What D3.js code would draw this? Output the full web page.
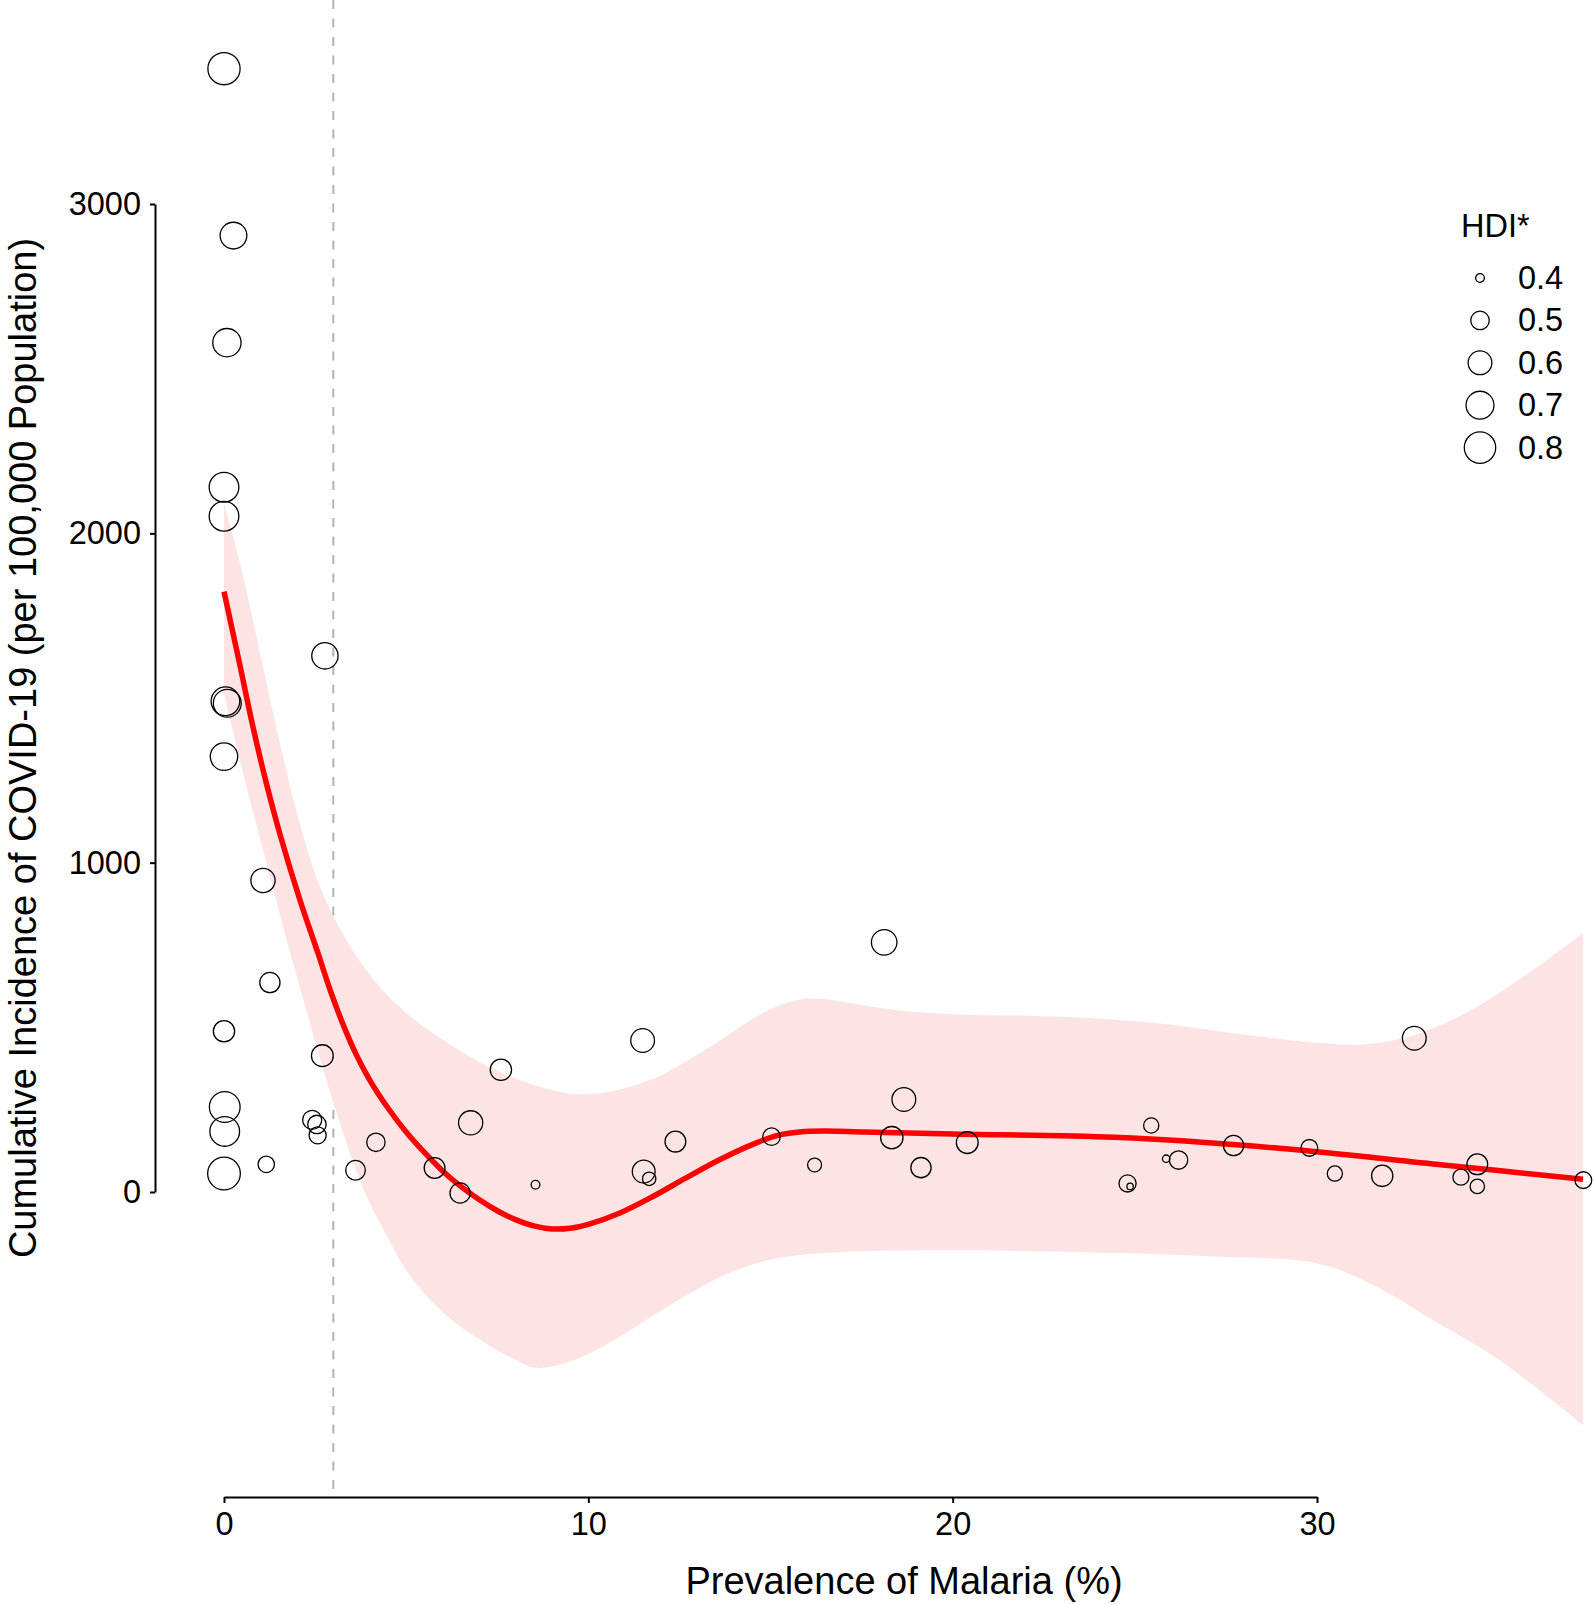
<!DOCTYPE html>
<html>
<head>
<meta charset="utf-8">
<script src="https://cdn.jsdelivr.net/npm/d3@7"></script>
<style>
  html, body { margin: 0; padding: 0; background: #fff; }
  svg { display: block; }
  text { font-family: "Liberation Sans", Arial, sans-serif; fill: #000; }
</style>
</head>
<body>
<svg id="chart" width="1594" height="1604"></svg>
<script>
// ---------- data ----------
const malaria = [0, 0.26, 0.08, 0, 0, 2.77, 0.04, 0.09, 0, 1.07, 1.26, 0, 2.70, 0.02, 0.02, 0, 1.16,
  2.42, 2.55, 2.57, 4.17, 3.61, 7.6, 6.77, 5.78, 6.48, 11.49, 8.55, 11.52, 11.67, 12.39, 15.03,
  16.21, 18.66, 18.33, 19.13, 20.40, 18.12, 32.67, 25.45, 25.86, 26.2, 24.8, 24.87, 27.71, 29.79,
  30.49, 31.79, 34.4, 33.95, 34.4, 37.31];
const incidence = [3411, 2904, 2579, 2140, 2052, 1628, 1490, 1484, 1322, 946, 636, 488, 414, 258, 184, 56, 84,
  219, 205, 172, 151, 66, 371, 210, 73, -3, 460, 22, 62, 40, 153, 168,
  82, 281, 165, 74, 150, 758, 467, 202, 101, 97, 26, 17, 141, 134,
  56, 49, 84, 45, 17, 36];
const hdi = [0.825, 0.67, 0.71, 0.75, 0.75, 0.66, 0.72, 0.70, 0.69, 0.61, 0.53, 0.55, 0.56, 0.78, 0.75, 0.84, 0.47,
  0.51, 0.50, 0.48, 0.50, 0.52, 0.55, 0.61, 0.54, 0.53, 0.60, 0.40, 0.58, 0.435, 0.54, 0.485,
  0.44, 0.60, 0.57, 0.53, 0.56, 0.64, 0.60, 0.455, 0.395, 0.50, 0.48, 0.392, 0.53, 0.475,
  0.455, 0.55, 0.54, 0.465, 0.445, 0.475];

// LOESS fit and confidence band
const fitX = [0, 0.44, 0.8, 1.17, 1.54, 2.09, 2.58, 2.94, 3.3, 3.64, 4.0, 4.5, 5.0, 5.5, 6.0, 6.5, 7.0,
  7.5, 8.0, 8.5, 9.0, 9.5, 10.0, 10.9, 11.8, 12.67, 13.6, 14.63, 15.2, 15.8, 16.5, 17.58, 20.0,
  24.44, 28.95, 33.46, 37.3];
const fitY = [1823, 1598, 1410, 1238, 1085, 885, 725, 605, 500, 415, 340, 255, 182, 120, 64, 17, -23,
  -57, -84, -103, -112, -110, -98, -62, -12, 42, 98, 150, 172, 182, 185, 182, 176,
  166, 133, 82, 39];
const upperX = [0, 0.44, 0.99, 1.54, 2.09, 2.64, 3.18, 3.73, 4.3, 4.83, 5.5, 6.0, 7.0, 8.0, 9.0, 9.7, 10.5,
  11.7, 12.5, 13.65, 14.5, 15.2, 15.9, 16.5, 17.5, 18.5, 20.0, 22.0, 24.0, 26.0, 28.0, 30.0, 31.2,
  32.3, 33.5, 34.7, 36.0, 37.3];
const upperY = [2090, 1909, 1636, 1360, 1115, 925, 800, 700, 620, 560, 500, 462, 395, 345, 310, 297, 303,
  340, 385, 462, 525, 565, 586, 585, 568, 552, 540, 535, 527, 508, 478, 453, 448,
  465, 512, 583, 680, 786];
const lowerX = [0, 0.26, 0.71, 1.17, 1.72, 2.18, 2.73, 3.18, 3.82, 4.5, 5.08, 6.0, 7.05, 8.0, 8.57, 9.5,
  10.7, 12.0, 13.51, 14.5, 15.48, 17.0, 20.0, 24.74, 27.0, 30.0, 31.5, 33.17, 35.0, 37.3];
const lowerY = [1515, 1393, 1190, 998, 765, 583, 370, 210, 10, -140, -250, -365, -450, -510, -534, -515,
  -450, -360, -264, -220, -196, -182, -177, -186, -195, -217, -280, -388, -510, -708];

const xTicks = [0, 10, 20, 30];
const yTicks = [0, 1000, 2000, 3000];
const legendValues = [0.4, 0.5, 0.6, 0.7, 0.8];
const hdiDomain = [0.39, 0.85];
const thresholdX = 3;

// ---------- scales ----------
const svg = d3.select("#chart");
const x = d3.scaleLinear().domain([0, 30]).range([224, 1317]);
const y = d3.scaleLinear().domain([0, 3000]).range([1192, 204]);
const areaFrac = d3.scaleLinear().domain(hdiDomain).range([0, 1]).clamp(true);
const sizeScale = d3.scaleLinear().domain([0, 1]).range([2.25, 16.5]);
const r = v => sizeScale(Math.sqrt(areaFrac(v)));

// ---------- dashed threshold ----------
svg.append("line")
  .attr("x1", x(thresholdX)).attr("x2", x(thresholdX))
  .attr("y1", 0).attr("y2", 1497)
  .attr("stroke", "#b3b3b3").attr("stroke-width", 2)
  .attr("stroke-dasharray", "9,9.5");

// ---------- ribbon ----------
const curve = d3.curveCatmullRom.alpha(0.5);
const upperPts = upperX.map((d, i) => [x(d), y(upperY[i])]);
const lowerPts = lowerX.map((d, i) => [x(d), y(lowerY[i])]).reverse();
const lineGen = d3.line().curve(curve);
const upPath = lineGen(upperPts);
const lowPath = lineGen(lowerPts);
svg.append("path")
  .attr("d", upPath + "L" + lowPath.slice(1) + "Z")
  .attr("fill", "rgb(253,228,228)")
  .attr("stroke", "none");

// ---------- fit line ----------
svg.append("path")
  .attr("d", d3.line().x((d, i) => x(fitX[i])).y(d => y(d)).curve(curve)(fitY))
  .attr("fill", "none")
  .attr("stroke", "#ff0000")
  .attr("stroke-width", 5.5)
  .attr("stroke-linejoin", "round");

// ---------- points ----------
svg.append("g").selectAll("circle")
  .data(malaria.map((d, i) => ({ m: d, c: incidence[i], h: hdi[i] })))
  .join("circle")
  .attr("cx", d => x(d.m))
  .attr("cy", d => y(d.c))
  .attr("r", d => r(d.h))
  .attr("fill", "none")
  .attr("stroke", "#000")
  .attr("stroke-width", 1.3);

// ---------- axes ----------
const yAxis = svg.append("g")
  .attr("transform", `translate(155,0)`)
  .call(d3.axisLeft(y).tickValues(yTicks).tickSize(5).tickSizeOuter(0).tickPadding(9).tickFormat(d3.format("d")));
const xAxis = svg.append("g")
  .attr("transform", `translate(0,1497)`)
  .call(d3.axisBottom(x).tickValues(xTicks).tickSize(6).tickSizeOuter(0).tickPadding(9).tickFormat(d3.format("d")));
[yAxis, xAxis].forEach(g => {
  g.select(".domain").attr("stroke", "#000").attr("stroke-width", 2);
  g.selectAll(".tick line").attr("stroke", "#000").attr("stroke-width", 2);
  g.selectAll(".tick text")
    .attr("font-family", "Liberation Sans, Arial, sans-serif")
    .attr("font-size", 32.5).attr("fill", "#000");
});

// ---------- axis titles ----------
svg.append("text")
  .attr("x", 904).attr("y", 1594)
  .attr("text-anchor", "middle")
  .attr("font-size", 38)
  .text("Prevalence of Malaria (%)");
svg.append("text")
  .attr("transform", "translate(36,748) rotate(-90)")
  .attr("text-anchor", "middle")
  .attr("font-size", 38)
  .text("Cumulative Incidence of COVID-19 (per 100,000 Population)");

// ---------- legend ----------
const legend = svg.append("g");
legend.append("text")
  .attr("x", 1461).attr("y", 237)
  .attr("font-size", 32.5)
  .text("HDI*");
const rows = legend.selectAll("g.row").data(legendValues).join("g")
  .attr("class", "row")
  .attr("transform", (d, i) => `translate(0,${278 + i * 42.4})`);
rows.append("circle")
  .attr("cx", 1480).attr("cy", 0)
  .attr("r", d => r(d))
  .attr("fill", "none").attr("stroke", "#000").attr("stroke-width", 1.3);
rows.append("text")
  .attr("x", 1518).attr("y", 11)
  .attr("font-size", 32.5)
  .text(d => d.toFixed(1));
</script>
</body>
</html>
